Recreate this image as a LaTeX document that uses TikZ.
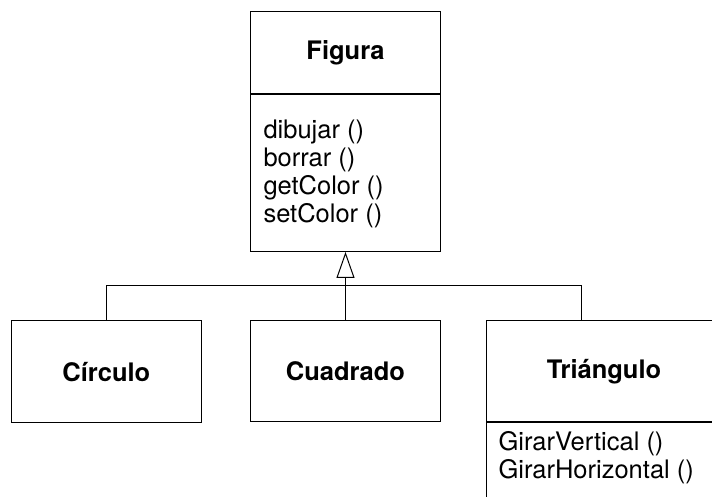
\documentclass[tikz,border=0pt]{standalone}
\usepackage{fontspec}
\setmainfont{TeX Gyre Heros}
\usepackage{tikz}
\usetikzlibrary{arrows.meta}

\begin{document}
\begin{tikzpicture}[x=1pt,y=1pt,line width=1pt,>={Triangle[open,length=26pt,width=18pt]}]
\tikzstyle{every node}=[font=\fontsize{25.5}{28.3}\selectfont];
\tikzstyle{clase}=[draw,inner sep=0pt,font=\fontsize{25.5}{28.3}\selectfont\bfseries];
\tikzstyle{metodos}=[align=left,anchor=north west,inner sep=0pt];
\path[use as bounding box,clip] (0,0) rectangle (712,497);
% superclass
%   nodes
    \node[clase,minimum width=190,minimum height=82.3] (figura) at (345.5,444.2) {Figura};
    \node[clase,minimum width=190,minimum height=156.5,anchor=north] (figuraops) at (figura.south) {};
    \node[metodos] (figuratxt) at (263,378) {dibujar ()\\borrar ()\\getColor ()\\setColor ()};
% subclasses
%   nodes
    \node[clase,minimum width=189.3,minimum height=102] (circulo) at (106.4,125.3) {Círculo};
    \node[clase,minimum width=190,minimum height=101.7] (cuadrado) at (345.5,126.1) {Cuadrado};
    \node[clase,minimum width=235,minimum height=101] (triangulo) at (604,125.8) {Triángulo};
    \node[clase,minimum width=235,minimum height=120,anchor=north] (trianguloops) at (triangulo.south) {};
    \node[metodos] (triangulotxt) at (498,66.5) {GirarVertical ()\\GirarHorizontal ()};
%   edges
    \coordinate (top) at (345.5,211.3);
    \coordinate (tri) at (581,211.3);
    \draw[->] (top) -- (figuraops.south);
    \draw (cuadrado.north) -- (top);
    \draw (circulo.north) |- (tri) -- (tri |- triangulo.north);
\end{tikzpicture}
\end{document}
